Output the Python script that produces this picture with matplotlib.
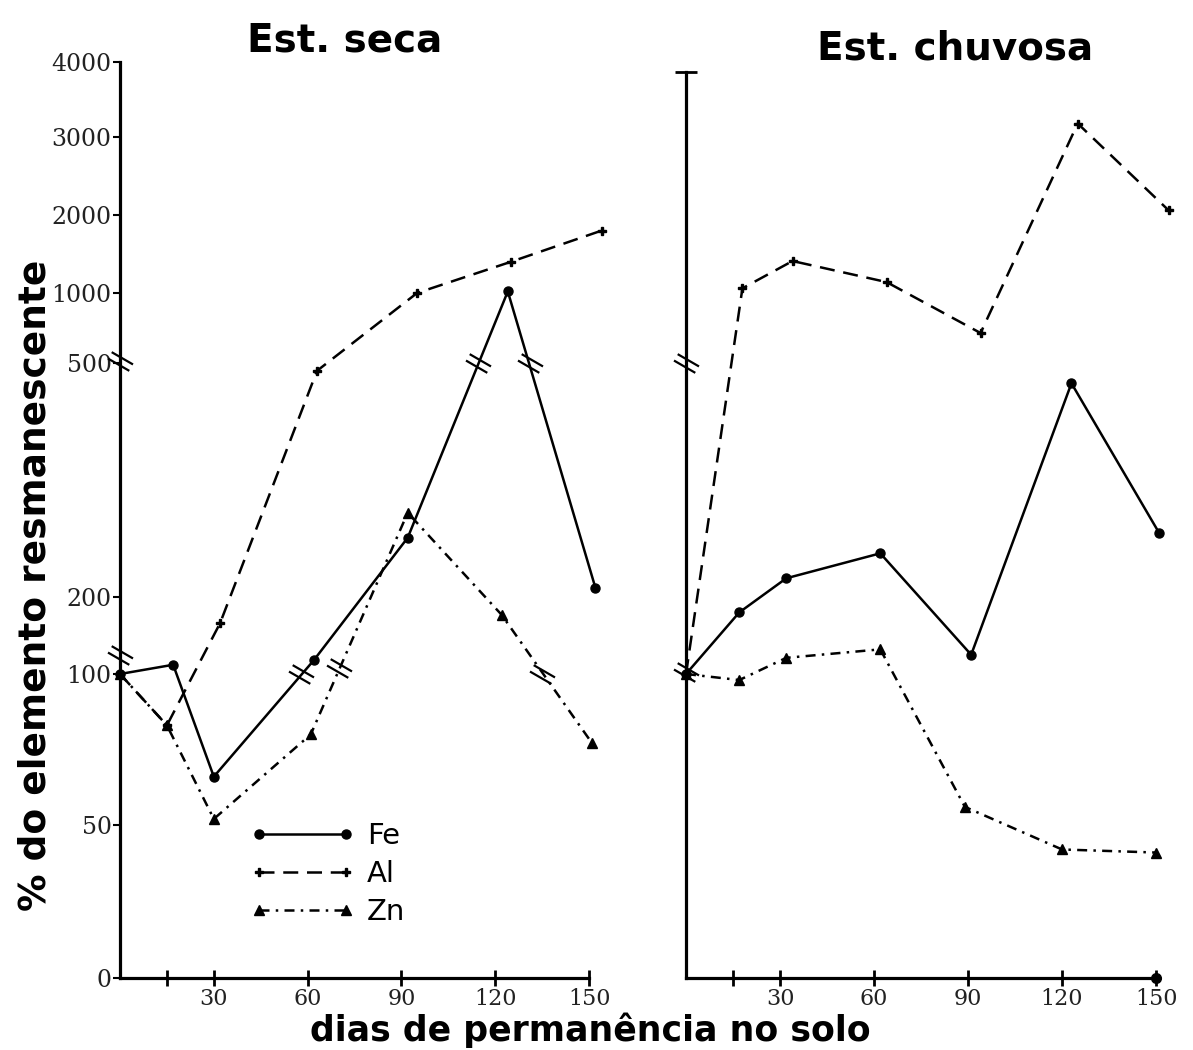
"""
Remanescência de Fe, Al e Zn no solo - estação seca e chuvosa
"""

import numpy as np
import matplotlib
matplotlib.use('Agg')
import matplotlib.pyplot as plt
from matplotlib.path import Path


# Estação seca (dias, % do elemento remanescente)
DIAS_SECA_FE = [0, 17, 30, 62, 92, 124, 152]
FE_SECA = [100, 112, 66, 118, 276, 1020, 212]
DIAS_SECA_AL = [0, 15, 32, 63, 95, 125, 154]
AL_SECA = [100, 83, 166, 490, 1000, 1400, 1800]
DIAS_SECA_ZN = [0, 15, 30, 61, 92, 122, 151]
ZN_SECA = [100, 83, 52, 80, 308, 177, 77]

# Estação chuvosa
DIAS_CHUVA_FE = [0, 17, 32, 62, 91, 123, 151]
FE_CHUVA = [100, 180, 224, 256, 125, 474, 282]
DIAS_CHUVA_AL = [0, 18, 34, 64, 94, 125, 154]
AL_CHUVA = [100, 1060, 1410, 1140, 714, 3180, 2060]
DIAS_CHUVA_ZN = [0, 17, 32, 62, 89, 120, 150]
ZN_CHUVA = [100, 98, 121, 132, 56, 42, 41]

# Marcas de quebra de escala (dia, valor)
QUEBRAS_SECA = [(0, 125), (0, 515), (58, 100), (70, 108), (114.5, 500), (131, 500), (135, 100)]
QUEBRAS_CHUVA = [(0, 500), (0, 102)]

# Eixo y quebrado (valor -> posição relativa no desenho original)
ESCALA_VALORES = [0, 50, 100, 200, 500, 1000, 2000, 3000, 4000]
ESCALA_POSICAO = [0, 153, 304, 381, 615, 685, 763, 841, 916]

DIAS_TICKS = [15, 30, 60, 90, 120, 150]
DIAS_ROTULOS = ['', '30', '60', '90', '120', '150']


def escala_direta(v):
    return np.interp(v, ESCALA_VALORES, ESCALA_POSICAO)


def escala_inversa(p):
    return np.interp(p, ESCALA_POSICAO, ESCALA_VALORES)


def marca_quebra(angulo=-30):
    """Dois traços paralelos ("//") como marcador"""
    a = np.deg2rad(angulo)
    rot = np.array([[np.cos(a), -np.sin(a)], [np.sin(a), np.cos(a)]])
    verts, codes = [], []
    for off in (-0.3, 0.3):
        for p, c in (((-1, off), Path.MOVETO), ((1, off), Path.LINETO)):
            verts.append(tuple(rot @ np.array(p)))
            codes.append(c)
    return Path(verts, codes)


def desenhar_painel(ax, dias_fe, fe, dias_al, al, dias_zn, zn, quebras):
    """Desenha as três séries de um painel"""
    ax.set_yscale('function', functions=(escala_direta, escala_inversa))
    ax.set_ylim(0, 4000)
    ax.set_xlim(0, 157)

    ax.plot(dias_fe, fe, color='black', lw=1.8, marker='o', ms=6.5,
            label='Fe', clip_on=False)
    ax.plot(dias_al, al, color='black', lw=1.8, dashes=(6, 3.5),
            marker='P', ms=6, label='Al', clip_on=False)
    ax.plot(dias_zn, zn, color='black', lw=1.8, dashes=(4, 2.5, 1, 2.5),
            marker='^', ms=7.5, label='Zn', clip_on=False)

    qx, qy = zip(*quebras)
    ax.plot(qx, qy, linestyle='none', marker=marca_quebra(-30), ms=18,
            mew=1.6, color='black', clip_on=False)

    for lado in ('top', 'right'):
        ax.spines[lado].set_visible(False)
    ax.spines['left'].set_linewidth(2.3)
    ax.spines['bottom'].set_linewidth(2.3)
    ax.spines['bottom'].set_bounds(0, 150)
    ax.set_facecolor('none')

    ax.set_xticks(DIAS_TICKS)
    ax.set_xticklabels(DIAS_ROTULOS, family='DejaVu Serif', fontsize=16,
                       color='#222222')
    ax.tick_params(axis='x', direction='inout', length=12, width=2, pad=1)
    ax.minorticks_off()


def main():
    fig = plt.figure(figsize=(11.93, 10.5), dpi=100)

    ax1 = fig.add_axes([120 / 1193, 72 / 1050, 491 / 1193, 916 / 1050])
    ax2 = fig.add_axes([686 / 1193, 72 / 1050, 492 / 1193, 916 / 1050])

    desenhar_painel(ax1, DIAS_SECA_FE, FE_SECA, DIAS_SECA_AL, AL_SECA,
                    DIAS_SECA_ZN, ZN_SECA, QUEBRAS_SECA)
    desenhar_painel(ax2, DIAS_CHUVA_FE, FE_CHUVA, DIAS_CHUVA_AL, AL_CHUVA,
                    DIAS_CHUVA_ZN, ZN_CHUVA, QUEBRAS_CHUVA)

    # eixo y da esquerda com rótulos
    ax1.set_yticks(ESCALA_VALORES)
    ax1.set_yticklabels([str(v) for v in ESCALA_VALORES], family='DejaVu Serif',
                        fontsize=17, color='#222222')
    ax1.tick_params(axis='y', direction='out', length=5, width=1.5, pad=1)
    ax1.minorticks_off()

    # eixo y da direita sem rótulos, só com o traço no topo
    ax2.spines['left'].set_bounds(0, 3870)
    ax2.set_yticks([3870])
    ax2.set_yticklabels([''])
    ax2.tick_params(axis='y', direction='inout', length=16, width=2)
    ax2.minorticks_off()
    ax2.plot([150], [0], 'o', color='black', ms=7, clip_on=False)

    ax1.legend(loc='upper left', bbox_to_anchor=(250 / 1193, 1 - 822 / 1050),
               bbox_transform=fig.transFigure, numpoints=2, handlelength=3.6,
               handletextpad=0.4, labelspacing=0.35, borderpad=0,
               borderaxespad=0, frameon=False, fontsize=21)

    fig.text(345 / 1193, 1 - 40 / 1050, 'Est. seca', ha='center', va='center',
             fontsize=28, fontweight='bold')
    fig.text(955 / 1193, 1 - 48 / 1050, 'Est. chuvosa', ha='center', va='center',
             fontsize=28, fontweight='bold')
    fig.text(36 / 1193, 1 - 585 / 1050, '% do elemento resmanescente',
             rotation=90, ha='center', va='center', fontsize=27,
             fontweight='bold')
    fig.text(590 / 1193, 2 / 1050, 'dias de permanência no solo',
             ha='center', va='bottom', fontsize=25, fontweight='bold')

    fig.savefig('out.png', dpi=100, facecolor='white')


if __name__ == "__main__":
    main()
